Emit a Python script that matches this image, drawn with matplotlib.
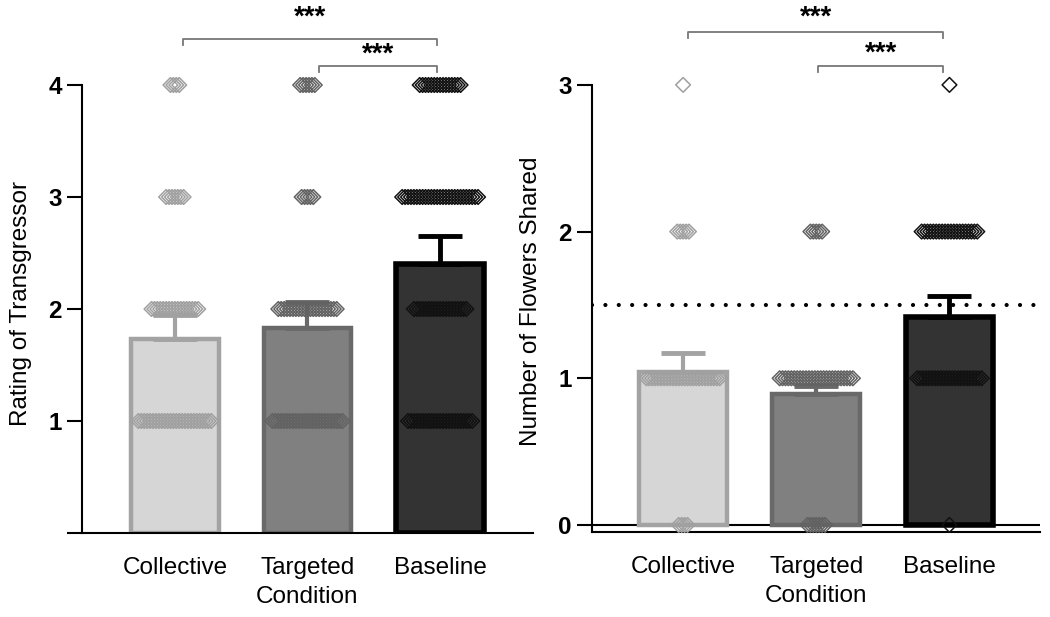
import numpy as np
import matplotlib
matplotlib.use("Agg")
import matplotlib.pyplot as plt

plt.rcParams["font.family"] = ["Liberation Sans", "DejaVu Sans"]

# condition names and bar colours
conditions = ["Collective", "Targeted", "Baseline"]
bar_fill = ["#d6d6d6", "#808080", "#333333"]
bar_edge = ["#a3a3a3", "#696969", "#000000"]
dot_colors = ["#a0a0a0", "#626262", "#111111"]

# left panel: rating of transgressor
rating_mean = [1.73, 1.83, 2.40]
rating_err = [0.22, 0.23, 0.25]
rating_levels = [1, 2, 3, 4]
rating_counts_collective = [26, 17, 7, 4]
rating_counts_targeted = [25, 21, 5, 6]
rating_counts_baseline = [23, 19, 27, 15]

# right panel: number of flowers shared
flowers_mean = [1.04, 0.89, 1.42]
flowers_err = [0.13, 0.06, 0.14]
flowers_levels = [0, 1, 2, 3]
flowers_counts_collective = [4, 26, 5, 1]
flowers_counts_targeted = [7, 26, 5, 0]
flowers_counts_baseline = [1, 23, 20, 1]
chance_level = 1.5

rating_counts = [rating_counts_collective, rating_counts_targeted, rating_counts_baseline]
flowers_counts = [flowers_counts_collective, flowers_counts_targeted, flowers_counts_baseline]

fig = plt.figure(figsize=(10.5, 6.17), dpi=100)
axL = fig.add_axes([0.0781, 0.1361, 0.4295, 0.7443])
axR = fig.add_axes([0.5638, 0.1373, 0.4267, 0.7489])


def draw_panel(ax, means, errs, levels, counts):
    x = np.arange(len(conditions))
    for i in x:
        ax.bar(i, means[i], width=0.66, color=bar_fill[i], edgecolor=bar_edge[i],
               linewidth=3.2 if i < 2 else 4, zorder=2)
        ax.errorbar(i, means[i], yerr=[[0], [errs[i]]], color=bar_edge[i],
                    elinewidth=3 if i < 2 else 3.5, capsize=16, capthick=3.5, zorder=3)
        # swarm of individual responses
        for lev, n in zip(levels, counts[i]):
            if n == 0:
                continue
            offs = (np.arange(n) - (n - 1) / 2) * 0.022
            ax.scatter(i + offs, np.full(n, lev), marker="D", s=56, facecolors="none",
                       edgecolors=dot_colors[i], linewidths=1.1, zorder=4, clip_on=False)
    ax.set_xticks(x)
    ax.set_xticklabels(conditions, fontsize=17.5)
    ax.tick_params(axis="x", length=0, pad=17)
    ax.tick_params(axis="y", length=11, width=1.5, labelsize=17.5)
    ax.spines["top"].set_visible(False)
    ax.spines["right"].set_visible(False)
    ax.spines["left"].set_linewidth(1.5)
    ax.spines["bottom"].set_linewidth(1.5)
    ax.set_xlabel("Condition", fontsize=17.5, labelpad=5)


def bracket(ax, x1, x2, y, h, txt_y):
    ax.plot([x1, x1, x2, x2], [y - h, y, y, y - h], color="#777777", lw=1.3,
            clip_on=False, zorder=5)
    ax.text((x1 + x2) / 2, txt_y, "***", ha="center", va="center", fontsize=20,
            fontweight="bold", clip_on=False)


draw_panel(axL, rating_mean, rating_err, rating_levels, rating_counts)
axL.set_xlim(-0.70, 2.70)
axL.set_ylim(0, 4.1)
axL.set_yticks([0, 1, 2, 3, 4])
axL.set_yticklabels(["", "1", "2", "3", "4"])
for lab in axL.get_yticklabels():
    lab.set_fontweight("bold")
axL.spines["left"].set_bounds(0, 4)
axL.set_ylabel("Rating of Transgressor", fontsize=17.5, labelpad=12)
bracket(axL, 0.06, 1.98, 4.41, 0.05, 4.60)
bracket(axL, 1.09, 1.98, 4.17, 0.05, 4.27)

draw_panel(axR, flowers_mean, flowers_err, flowers_levels, flowers_counts)
axR.set_xlim(-0.684, 2.68)
axR.set_ylim(-0.05, 3.1)
axR.set_yticks([0, 1, 2, 3])
for lab in axR.get_yticklabels():
    lab.set_fontweight("bold")
axR.spines["left"].set_bounds(-0.05, 3)
axR.axhline(0, color="black", lw=1.5, zorder=1)
axR.axhline(chance_level, color="black", lw=3, linestyle=(0, (0.01, 3.2)),
            dash_capstyle="round", zorder=5)
axR.set_ylabel("Number of Flowers Shared", fontsize=17.5, labelpad=12)
bracket(axR, 0.04, 1.95, 3.36, 0.04, 3.46)
bracket(axR, 1.015, 1.95, 3.13, 0.04, 3.21)

plt.savefig("out.png", dpi=100)
plt.close("all")
